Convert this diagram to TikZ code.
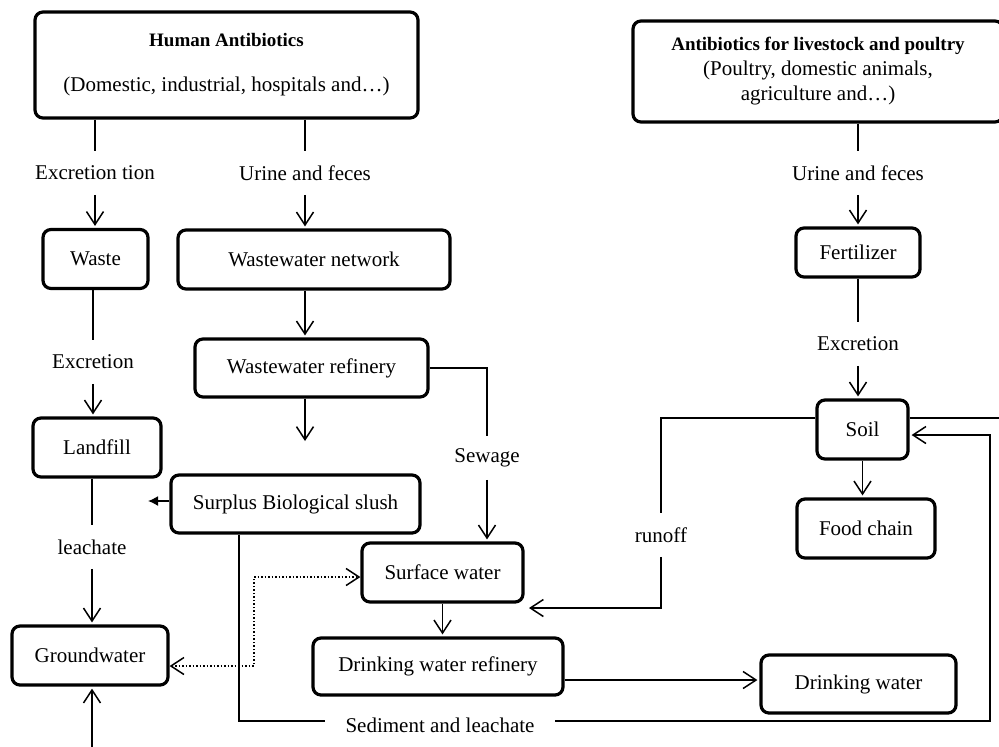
\documentclass[tikz,border=0pt]{standalone}
\usepackage{fontspec}
\setmainfont{Liberation Serif}
\usepackage{tikz}
\usetikzlibrary{arrows.meta}
\tikzset{>={Straight Barb[length=6.5pt,width=8.5pt]}}
\tikzstyle{box} = [draw, rounded corners=4pt, line width=1.6pt, align=center, inner sep=0pt, minimum height=29.5pt, font=\fontsize{10.5}{12.5}\selectfont]
\tikzstyle{lbl} = [inner xsep=2pt, inner ysep=0pt, minimum height=21pt, font=\fontsize{10.5}{12.5}\selectfont]
\tikzstyle{arr} = [->, shorten >=1pt]

\begin{document}
\begin{tikzpicture}[x=0.5pt, y=-0.5pt, line width=0.75pt]
\useasboundingbox (0,0) rectangle (999,746);
\clip (0,0) rectangle (999,746);
% sources
\node [box, minimum width=191.5pt, minimum height=53pt] (human) at (226.5,65) {{\fontsize{9.5}{11}\selectfont\bfseries Human Antibiotics}\\[10pt](Domestic, industrial, hospitals and\ldots)};
\node [box, minimum width=185pt, minimum height=50.5pt] (stock) at (818,71.5) {{\fontsize{9.5}{11}\selectfont\bfseries Antibiotics for livestock and poultry}\\(Poultry, domestic animals,\\agriculture and\ldots)};

% left column
\node [lbl] (excA) at (95,173) {Excretion tion};
\node [box, minimum width=52.5pt] (waste) at (95.5,259) {Waste};
\node [lbl] (excB) at (93,362) {Excretion};
\node [box, minimum width=64pt] (landfill) at (97,447.5) {Landfill};
\node [lbl] (leach) at (92,547) {leachate};
\node [box, minimum width=78pt] (ground) at (90,655.5) {Groundwater};
\coordinate (gwin) at (92,752);

\draw (human.south -| excA) -- (excA);
\draw [arr] (excA) -- (excA |- waste.north);
\draw (waste.south -| excB) -- (excB);
\draw [arr] (excB) -- (excB |- landfill.north);
\draw (landfill.south -| leach) -- (leach);
\draw [arr] (leach) -- (leach |- ground.north);
\draw [arr] (gwin) -- (gwin |- ground.south);

% middle column
\node [lbl] (urineA) at (305,173) {Urine and feces};
\node [box, minimum width=136pt] (wwnet) at (314,259.5) {Wastewater network};
\node [box, minimum width=116.5pt, minimum height=29pt] (wwref) at (311.5,368) {Wastewater refinery};
\coordinate (slushin) at (305,443);
\node [box, minimum width=124.5pt, minimum height=29pt] (slush) at (295.5,504) {Surplus Biological slush};
\coordinate (slushout) at (148,501);
\node [lbl] (sewage) at (487,458) {Sewage};
\node [box, minimum width=80.5pt] (surface) at (442.5,572.5) {Surface water};
\node [box, minimum width=125pt, minimum height=28.5pt] (dwref) at (438,666.5) {Drinking water refinery};
\node [lbl, inner xsep=10pt] (sediment) at (440,725) {Sediment and leachate};
\coordinate (sedA) at (239,721);
\coordinate (dotA) at (254,577);
\coordinate (dotB) at (254,666);

\draw (human.south -| urineA) -- (urineA);
\draw [arr] (urineA) -- (urineA |- wwnet.north);
\draw [arr] (wwnet.south -| urineA) -- (urineA |- wwref.north);
\draw [arr] (wwref.south -| slushin) -- (slushin);
\draw (wwref.east) -| (sewage);
\draw [arr] (sewage) -- (sewage |- surface.north);
\draw [-{Latex[length=5pt,width=5pt]}] (slush.west |- slushout) -- (slushout);
\draw (slush.south -| sedA) -- (sedA) -- (sediment.west |- sedA);
\draw [arr] (surface.south) -- (surface.south |- dwref.north);
\draw [densely dotted, <->] (ground.east |- dotB) -- (dotB) -- (dotA) -- (surface.west |- dotA);

% right column
\node [lbl] (urineB) at (858,173) {Urine and feces};
\node [box, minimum width=62pt, minimum height=24.5pt] (fert) at (858,252.5) {Fertilizer};
\node [lbl] (excC) at (858,344) {Excretion};
\node [box, minimum width=45.5pt] (soil) at (862.5,429.5) {Soil};
\node [box, minimum width=69pt] (food) at (866,528.5) {Food chain};
\node [box, minimum width=97.5pt, minimum height=29pt] (dwater) at (858.5,684) {Drinking water};
\node [lbl] (runoff) at (661,535) {runoff};
\coordinate (soilA) at (661,418);
\coordinate (soilout) at (1005,418);
\coordinate (runin) at (527,608);
\coordinate (dwline) at (0,680);
\coordinate (loop) at (990,435);

\draw (stock.south -| urineB) -- (urineB);
\draw [arr] (urineB) -- (urineB |- fert.north);
\draw (fert.south -| excC) -- (excC);
\draw [arr] (excC) -- (excC |- soil.north);
\draw [arr] (soil.south) -- (soil.south |- food.north);
\draw (soil.west |- soilA) -| (runoff);
\draw [arr] (runoff) |- (runin);
\draw (soil.east |- soilA) -- (soilout);
\draw [arr] (dwref.east |- dwline) -- (dwater.west |- dwline);
\draw [arr] (sediment.east |- sedA) -| (loop) -- (soil.east |- loop);
\end{tikzpicture}
\end{document}
